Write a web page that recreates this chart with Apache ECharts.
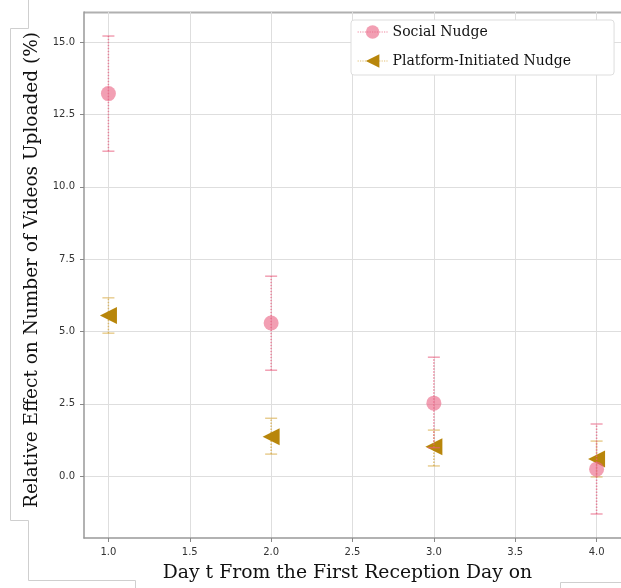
<!DOCTYPE html>
<html><head><meta charset="utf-8">
<script src="https://cdn.jsdelivr.net/npm/echarts@6/dist/echarts.min.js"></script>
<style>html,body{margin:0;padding:0;background:#fff}#c{width:621px;height:588px}</style>
</head><body><div id="c"></div>
<script>
const days = [1, 2, 3, 4];
const socialMean = [13.22, 5.29, 2.52, 0.24];
const socialLow = [11.23, 3.66, 0.98, -1.31];
const socialHigh = [15.21, 6.91, 4.11, 1.80];
const platformMean = [5.55, 1.36, 1.01, 0.59];
const platformLow = [4.94, 0.76, 0.35, -0.03];
const platformHigh = [6.16, 2.00, 1.59, 1.21];
const yTicks = [0, 2.5, 5, 7.5, 10, 12.5, 15];
const xTicks = [1, 1.5, 2, 2.5, 3, 3.5, 4];

const pinkFill = 'rgba(234,100,132,0.62)';
const pinkErr = 'rgba(232,96,128,0.75)';
const gold = '#b8860b';
const goldErr = 'rgba(214,166,60,0.7)';

function errData(lo, hi) { return days.map((d, i) => [d, lo[i], hi[i]]); }
function errRender(color) {
  return function (params, api) {
    const x = api.value(0);
    const a = api.coord([x, api.value(1)]);
    const b = api.coord([x, api.value(2)]);
    const w = 6;
    return {
      type: 'group',
      children: [
        { type: 'line', shape: { x1: a[0], y1: a[1], x2: b[0], y2: b[1] }, style: { stroke: color, lineWidth: 1.5, lineDash: [1.5, 1.5] } },
        { type: 'line', shape: { x1: a[0] - w, y1: a[1], x2: a[0] + w, y2: a[1] }, style: { stroke: color, lineWidth: 1.2 } },
        { type: 'line', shape: { x1: b[0] - w, y1: b[1], x2: b[0] + w, y2: b[1] }, style: { stroke: color, lineWidth: 1.2 } }
      ]
    };
  };
}

const chart = echarts.init(document.getElementById('c'), null, { renderer: 'canvas' });
const sansTick = { fontFamily: 'DejaVu Sans', fontSize: 10, color: '#333' };
chart.setOption({
  animation: false,
  grid: { left: 84, top: 12, width: 538.5, height: 526, show: false, containLabel: false },
  legend: {
    data: ['Social Nudge', 'Platform-Initiated Nudge'],
    orient: 'vertical', left: 351, top: 20, padding: [5, 43, 7, 6], itemGap: 15,
    itemWidth: 30, itemHeight: 17,
    backgroundColor: '#fff', borderColor: '#ddd', borderWidth: 1, borderRadius: 3,
    textStyle: { fontFamily: 'DejaVu Serif', fontSize: 14, color: '#111' },
    lineStyle: { width: 1.2, type: 'dotted' }
  },
  xAxis: {
    type: 'value', min: 0.85, max: 4.15,
    name: 'Day t From the First Reception Day on', nameLocation: 'middle', nameGap: 26,
    nameTextStyle: { fontFamily: 'DejaVu Serif', fontSize: 18.8, color: '#111', padding: [0, 10, 0, 0] },
    axisLine: { onZero: false, lineStyle: { color: '#999', width: 1.5 } },
    axisTick: { show: true, customValues: xTicks, length: 4, lineStyle: { color: '#888' } },
    axisLabel: { customValues: xTicks, formatter: v => v.toFixed(1), margin: 9, ...sansTick },
    splitLine: { show: true, lineStyle: { color: '#dedede', width: 1 } }
  },
  yAxis: {
    type: 'value', min: -2.14, max: 16.04,
    name: 'Relative Effect on Number of Videos Uploaded (%)', nameLocation: 'middle', nameGap: 42,
    nameTextStyle: { fontFamily: 'DejaVu Serif', fontSize: 18.5, color: '#111', padding: [0, 0, 0, 10] },
    axisLine: { show: true, onZero: false, lineStyle: { color: '#999', width: 1.5 } },
    axisTick: { show: true, customValues: yTicks, length: 4, lineStyle: { color: '#888' } },
    axisLabel: { customValues: yTicks, formatter: v => v.toFixed(1), margin: 9, ...sansTick },
    splitLine: { show: true, lineStyle: { color: '#dedede', width: 1 } }
  },
  graphic: [
    { type: 'line', silent: true, shape: { x1: 84, y1: 12.5, x2: 621, y2: 12.5 }, style: { stroke: '#b0b0b0', lineWidth: 2 } },
    { type: 'polyline', silent: true, shape: { points: [[28.5, 0], [28.5, 28.5], [10.5, 28.5], [10.5, 520.5], [28.5, 520.5], [28.5, 580.5], [135.5, 580.5], [135.5, 588]] }, style: { stroke: '#cfcfcf', fill: null, lineWidth: 1 } },
    { type: 'polyline', silent: true, shape: { points: [[560.5, 588], [560.5, 582.5], [621, 582.5]] }, style: { stroke: '#cfcfcf', fill: null, lineWidth: 1 } }
  ],
  series: [
    { type: 'custom', name: 'pErr', renderItem: errRender(goldErr), data: errData(platformLow, platformHigh), encode: { x: 0, y: [1, 2] }, z: 2, silent: true },
    { type: 'line', name: 'Platform-Initiated Nudge', data: days.map((d, i) => [d, platformMean[i]]),
      symbol: 'triangle', symbolRotate: 90, symbolSize: [17, 17], showSymbol: true,
      itemStyle: { color: gold, opacity: 1 }, lineStyle: { width: 0, color: goldErr, type: 'dotted' }, z: 3 },
    { type: 'custom', name: 'sErr', renderItem: errRender(pinkErr), data: errData(socialLow, socialHigh), encode: { x: 0, y: [1, 2] }, z: 4, silent: true },
    { type: 'line', name: 'Social Nudge', data: days.map((d, i) => [d, socialMean[i]]),
      symbol: 'circle', symbolSize: 15, showSymbol: true,
      itemStyle: { color: pinkFill }, lineStyle: { width: 0, color: pinkErr, type: 'dotted' }, z: 5 }
  ]
});
</script></body></html>
